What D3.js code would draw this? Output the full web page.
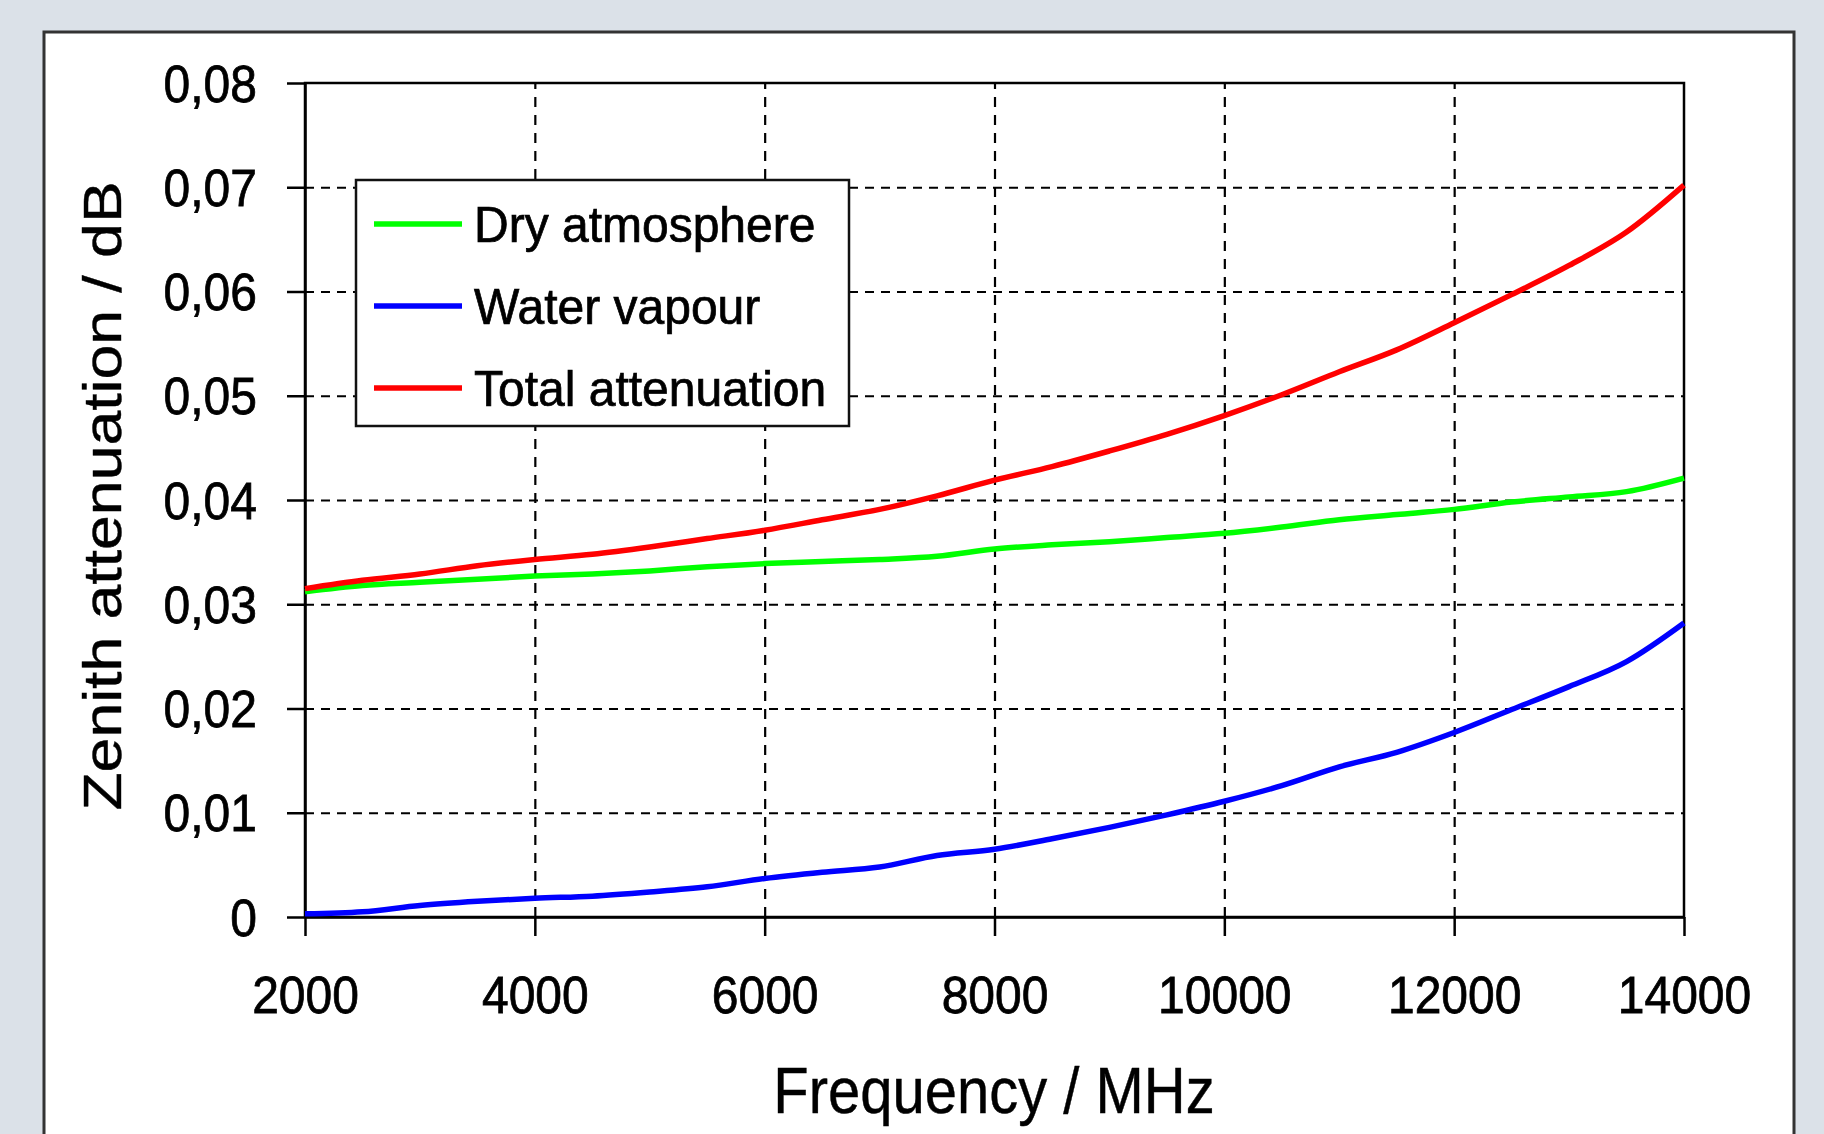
<!DOCTYPE html>
<html>
<head>
  <meta charset="utf-8">
  <script src="https://cdn.jsdelivr.net/npm/d3@7"></script>
  <style>
    body {
      margin: 0;
      background: #dbe1e8;
    }
    svg text {
      font-family: "Liberation Sans", Arial, sans-serif;
      fill: #000;
      stroke: #000;
      stroke-width: 0.7px;
    }
  </style>
</head>
<body>
<script>
  // values (MHz / dB)
  var freqs = [2000, 2500, 3000, 3500, 4000, 4500, 5000, 5500, 6000, 6500, 7000, 7500, 8000,
               8500, 9000, 9500, 10000, 10500, 11000, 11500, 12000, 12500, 13000, 13500, 14000];
  var dryAtmosphere = [0.0312, 0.0318, 0.0321, 0.0324, 0.0327, 0.0329, 0.0332, 0.0336, 0.0339, 0.0341,
                       0.0343, 0.0346, 0.0353, 0.0357, 0.0360, 0.0364, 0.0368, 0.0374, 0.0381, 0.0386,
                       0.0391, 0.0398, 0.0403, 0.0408, 0.0421];
  var waterVapour = [0.0003, 0.0005, 0.0011, 0.0015, 0.0018, 0.0020, 0.0024, 0.0029, 0.0037, 0.0043,
                     0.0048, 0.0059, 0.0065, 0.0075, 0.0086, 0.0098, 0.0111, 0.0126, 0.0144, 0.0158,
                     0.0177, 0.0199, 0.0221, 0.0245, 0.0282];
  var totalAttenuation = [0.0315, 0.0323, 0.0329, 0.0337, 0.0343, 0.0348, 0.0355, 0.0363, 0.0371, 0.0381,
                          0.0391, 0.0404, 0.0419, 0.0432, 0.0447, 0.0463, 0.0481, 0.0501, 0.0523, 0.0544,
                          0.0570, 0.0597, 0.0625, 0.0657, 0.0702];
  var seriesNames = ["Dry atmosphere", "Water vapour", "Total attenuation"];
  var seriesColors = ["#00ff00", "#0000ff", "#ff0000"];
  var xTicks = [2000, 4000, 6000, 8000, 10000, 12000, 14000];
  var yTicks = [0, 0.01, 0.02, 0.03, 0.04, 0.05, 0.06, 0.07, 0.08];

  var W = 1824, H = 1134;
  var plotL = 305, plotR = 1684, plotT = 83, plotB = 917;

  var svg = d3.select("body").append("svg")
    .attr("width", W)
    .attr("height", H);

  // white panel
  svg.append("rect")
    .attr("x", 44).attr("y", 32)
    .attr("width", 1750).attr("height", 1140)
    .attr("fill", "#fff")
    .attr("stroke", "#333")
    .attr("stroke-width", 3);

  var x = d3.scaleLinear().domain([2000, 14000]).range([plotL, plotR]);
  var y = d3.scaleLinear().domain([0, 0.08]).range([plotB, plotT]);

  // dashed grid
  var gx = svg.append("g")
    .attr("transform", "translate(0," + plotB + ")")
    .call(d3.axisBottom(x).tickValues(xTicks.slice(1, -1)).tickSize(-(plotB - plotT)).tickFormat(""));
  gx.select(".domain").remove();
  gx.selectAll("line").attr("stroke", "#000").attr("stroke-width", 2.2).attr("stroke-dasharray", "10,8");

  var gy = svg.append("g")
    .attr("transform", "translate(" + plotL + ",0)")
    .call(d3.axisLeft(y).tickValues(yTicks.slice(1, -1)).tickSize(-(plotR - plotL)).tickFormat(""));
  gy.select(".domain").remove();
  gy.selectAll("line").attr("stroke", "#000").attr("stroke-width", 2.2).attr("stroke-dasharray", "9,7");

  // plot frame
  svg.append("rect")
    .attr("x", plotL).attr("y", plotT)
    .attr("width", plotR - plotL).attr("height", plotB - plotT)
    .attr("fill", "none")
    .attr("stroke", "#000")
    .attr("stroke-width", 2.5);

  // axes with ticks + labels
  var fmt = function(d) { return d === 0 ? "0" : d3.format(".2f")(d).replace(".", ","); };

  var ax = svg.append("g")
    .attr("transform", "translate(0," + plotB + ")")
    .call(d3.axisBottom(x).tickValues(xTicks).tickSize(19).tickSizeOuter(0).tickFormat(d3.format("d")));
  ax.select(".domain").attr("stroke-width", 2.5);
  ax.selectAll("line").attr("stroke-width", 2.5);
  ax.selectAll("text")
    .attr("y", 0).attr("dy", 0)
    .attr("transform", "translate(0,96) scale(1,1.08)")
    .style("font-size", "48px");

  var ay = svg.append("g")
    .attr("transform", "translate(" + plotL + ",0)")
    .call(d3.axisLeft(y).tickValues(yTicks).tickSize(18).tickSizeOuter(0).tickFormat(fmt));
  ay.select(".domain").attr("stroke-width", 2.5);
  ay.selectAll("line").attr("stroke-width", 2.5);
  ay.selectAll("text")
    .attr("x", 0).attr("dy", 0)
    .attr("transform", "translate(-48,18) scale(1,1.08)")
    .style("font-size", "48px");

  // series
  var allSeries = [dryAtmosphere, waterVapour, totalAttenuation];
  var line = d3.line()
    .x(function(d, i) { return x(freqs[i]); })
    .y(function(d) { return y(d); })
    .curve(d3.curveMonotoneX);

  svg.append("g").selectAll("path")
    .data(allSeries)
    .join("path")
    .attr("d", line)
    .attr("fill", "none")
    .attr("stroke", function(d, i) { return seriesColors[i]; })
    .attr("stroke-width", 5.5);

  // legend
  var legend = svg.append("g");
  legend.append("rect")
    .attr("x", 356).attr("y", 180)
    .attr("width", 493).attr("height", 246)
    .attr("fill", "#fff")
    .attr("stroke", "#111")
    .attr("stroke-width", 2.5);

  var rows = legend.selectAll("g.row")
    .data(seriesNames)
    .join("g")
    .attr("class", "row")
    .attr("transform", function(d, i) { return "translate(0," + [224, 306, 388][i] + ")"; });
  rows.append("line")
    .attr("x1", 374).attr("x2", 462)
    .attr("stroke", function(d, i) { return seriesColors[i]; })
    .attr("stroke-width", 5.5);
  rows.append("text")
    .attr("transform", "translate(474,18) scale(1,1.06)")
    .style("font-size", "48px")
    .text(function(d) { return d; });

  // axis titles
  svg.append("text")
    .attr("transform", "translate(994,1113) scale(1,1.12)")
    .attr("text-anchor", "middle")
    .style("font-size", "58px")
    .style("stroke-width", "0.4px")
    .text("Frequency / MHz");

  svg.append("text")
    .attr("transform", "translate(121,496) rotate(-90) scale(1.18,1)")
    .attr("text-anchor", "middle")
    .style("font-size", "53px")
    .style("stroke-width", "0.4px")
    .text("Zenith attenuation / dB");
</script>
</body>
</html>
